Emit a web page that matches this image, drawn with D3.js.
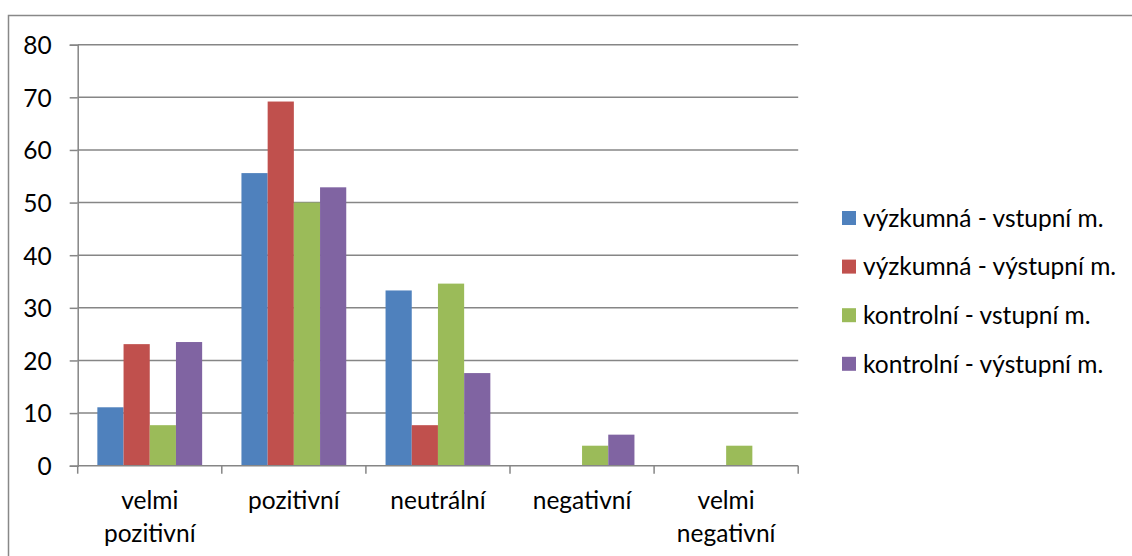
<!DOCTYPE html>
<html>
<head>
<meta charset="utf-8">
<script src="https://cdn.jsdelivr.net/npm/d3@7"></script>
<style>
  body { margin: 0; background: #fff; overflow: hidden; }
  svg { display: block; }
  text { font-family: Lato, "Open Sans", sans-serif; fill: #000; }
</style>
</head>
<body>
<div class="chart"></div>
<script>
// Categories (two-line labels) and series
const categories = ["velmi pozitivní", "pozitivní", "neutrální", "negativní", "velmi negativní"];
const categoryLines = [["velmi", "pozitivní"], ["pozitivní"], ["neutrální"], ["negativní"], ["velmi", "negativní"]];
const seriesNames = ["výzkumná - vstupní m.", "výzkumná - výstupní m.", "kontrolní - vstupní m.", "kontrolní - výstupní m."];
const seriesColors = ["#4F81BD", "#C0504D", "#9BBB59", "#8064A2"];

// values per series, in category order
const vyzkVstup = [11.1, 55.6, 33.3, 0, 0];
const vyzkVystup = [23.1, 69.2, 7.7, 0, 0];
const kontrVstup = [7.7, 50, 34.6, 3.8, 3.8];
const kontrVystup = [23.5, 52.9, 17.6, 5.9, 0];
const seriesValues = [vyzkVstup, vyzkVystup, kontrVstup, kontrVystup];

const yTicks = [0, 10, 20, 30, 40, 50, 60, 70, 80];

// Settings
const width = 1132;
const height = 556;
const margin = {top: 44.7, left: 77.7};
const innerWidth = 720.5;
const innerHeight = 421;
const fontPx = 24.5;

const svg = d3.select(".chart")
  .append("svg")
    .attr("width", width)
    .attr("height", height);

// outer chart border (only top and left edges are inside the picture)
svg.append("path")
  .attr("d", `M8.5,${height} V15.5 H${width}`)
  .attr("fill", "none")
  .attr("stroke", "#888")
  .attr("stroke-width", 1.5);

const g = svg.append("g")
  .attr("transform", `translate(${margin.left}, ${margin.top})`);

const x = d3.scaleBand()
  .domain(categories)
  .range([0, innerWidth]);

// inner band for the 4 bars, gap width 150%
const xInner = d3.scaleBand()
  .domain(seriesNames)
  .range([x.bandwidth() * 0.75 / 5.5, x.bandwidth() - x.bandwidth() * 0.75 / 5.5]);

const y = d3.scaleLinear()
  .domain([0, 80])
  .range([innerHeight, 0]);

// y axis
const yAxis = g.append("g")
  .call(d3.axisLeft(y).tickValues(yTicks).tickSize(8).tickPadding(18));
yAxis.select(".domain").attr("stroke", "#868686").attr("stroke-width", 1.5);
yAxis.selectAll(".tick line").attr("stroke", "#868686").attr("stroke-width", 1.5);
yAxis.selectAll(".tick text")
  .attr("dy", null)
  .attr("y", fontPx * 0.36)
  .style("font-size", fontPx + "px")
  .attr("fill", "#000");

// gridlines
g.append("g")
  .selectAll("line")
  .data(yTicks.filter(d => d > 0))
  .enter()
  .append("line")
    .attr("x1", 0)
    .attr("x2", innerWidth)
    .attr("y1", d => y(d))
    .attr("y2", d => y(d))
    .attr("stroke", "#868686")
    .attr("stroke-width", 1.5);

// bars
g.append("g")
  .selectAll("g")
  .data(seriesValues)
  .enter()
  .append("g")
    .attr("fill", (d, i) => seriesColors[i])
  .selectAll("rect")
  .data((vals, si) => vals.map((v, ci) => ({v, c: categories[ci], s: seriesNames[si]})))
  .enter()
  .append("rect")
    .attr("x", d => x(d.c) + xInner(d.s))
    .attr("y", d => y(d.v))
    .attr("width", xInner.bandwidth())
    .attr("height", d => innerHeight - y(d.v));

// x axis
const xAxis = g.append("g")
  .attr("transform", `translate(0, ${innerHeight})`);
xAxis.append("line")
  .attr("x1", 0).attr("x2", innerWidth)
  .attr("stroke", "#868686").attr("stroke-width", 1.5);
xAxis.selectAll(".tk")
  .data(d3.range(categories.length + 1))
  .enter()
  .append("line")
    .attr("x1", i => i * x.step())
    .attr("x2", i => i * x.step())
    .attr("y1", 0).attr("y2", 8)
    .attr("stroke", "#868686").attr("stroke-width", 1.5);

const labels = xAxis.selectAll(".lbl")
  .data(categories)
  .enter()
  .append("text")
    .attr("text-anchor", "middle")
    .attr("x", d => x(d) + x.bandwidth() / 2)
    .style("font-size", fontPx + "px");
labels.selectAll("tspan")
  .data((d, i) => categoryLines[i])
  .enter()
  .append("tspan")
    .attr("x", function() { return this.parentNode.getAttribute("x"); })
    .attr("y", (d, i) => 43 + i * 33)
    .text(d => d);

// legend
const legend = svg.append("g")
  .attr("transform", "translate(842, 211)");
const items = legend.selectAll("g")
  .data(seriesNames)
  .enter()
  .append("g")
    .attr("transform", (d, i) => `translate(0, ${i * 48.6})`);
items.append("rect")
  .attr("width", 14)
  .attr("height", 14)
  .attr("fill", (d, i) => seriesColors[i]);
items.append("text")
  .attr("x", 21)
  .attr("y", 7 + fontPx * 0.36)
  .style("font-size", fontPx + "px")
  .text(d => d);
</script>
</body>
</html>
